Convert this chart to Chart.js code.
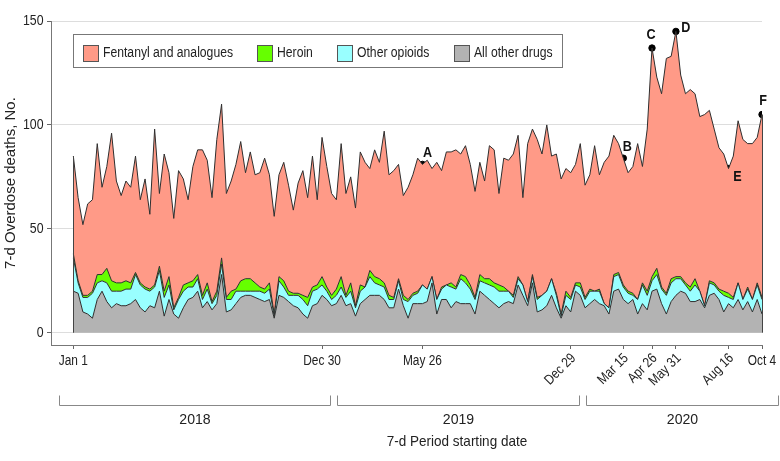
<!DOCTYPE html>
<html>
<head>
<meta charset="utf-8">
<script src="https://cdn.jsdelivr.net/npm/chart.js@4.4.0/dist/chart.umd.min.js"></script>
<style>
  body { margin: 0; background: #fff; }
</style>
</head>
<body>
<canvas id="chart" width="780" height="461"></canvas>
<script>
// weekly periods, index 0 = Jan 1 2018 ... 144 = Oct 4 2020
const otherDrugs = [20,19,10,9,7,16,20,15,12,14,13,13,14,16,12,10,13,12,20,8,16,9,7,12,16,17,20,12,15,11,
  14,28,10,11,14,17,18,18,17,16,15,16,7,18,17,15,13,12,9,7,13,14,18,16,13,14,18,13,14,8,
  14,16,18,18,18,16,12,12,21,13,7,14,14,14,15,24,9,16,16,12,15,14,14,14,9,20,18,16,14,12,
  14,15,14,23,18,13,24,10,11,13,18,12,7,13,10,20,18,12,14,16,14,13,9,20,21,16,14,16,9,14,
  11,20,21,14,9,15,18,20,19,15,15,16,12,18,19,16,10,14,12,16,11,15,10,16,9];
const otherOpioids = [16,5,7,8,12,8,5,9,8,6,7,8,7,12,11,11,7,10,10,9,7,2,9,8,6,5,6,4,6,3,
  4,5,6,5,6,3,2,2,3,4,4,5,1,7,5,3,5,6,7,6,7,7,5,4,3,4,4,4,6,4,
  6,6,9,6,5,6,4,4,4,3,8,4,5,9,6,3,7,5,7,10,6,12,10,7,7,5,6,7,8,8,
  6,5,3,3,5,2,3,6,7,7,8,6,1,5,6,3,4,4,6,4,6,1,3,7,7,6,5,2,7,9,
  7,5,7,7,9,9,8,6,4,5,8,4,1,6,4,4,8,3,4,8,5,6,6,7,7];
const heroin = [2,1,1,1,1,4,3,7,5,4,4,4,3,1,1,1,1,1,2,3,4,1,1,3,2,3,2,2,3,1,
  2,3,1,4,1,5,6,6,4,2,2,3,1,2,3,2,1,1,2,4,2,2,4,2,2,3,5,1,4,1,
  3,0,3,3,3,2,2,1,1,2,1,1,1,0,0,0,0,1,0,2,1,2,3,2,1,3,2,3,2,3,
  2,0,1,1,0,0,1,1,0,0,0,1,1,2,1,1,2,1,1,0,1,0,0,1,1,1,1,1,0,1,
  2,2,3,1,1,2,1,1,1,2,3,0,0,1,1,1,2,2,1,0,0,1,0,1,1];
const fentanyl = [47,40,34,44,44,63,42,49,71,49,42,48,46,56,40,52,36,75,35,66,50,43,61,51,40,55,60,70,59,50,
  73,74,50,53,60,67,51,61,52,55,63,52,47,49,57,51,40,53,60,48,63,41,67,58,49,43,64,49,51,47,
  64,60,49,61,56,73,58,61,55,48,54,57,64,58,62,52,66,56,64,63,66,58,63,58,51,54,47,64,64,44,
  62,63,68,68,42,76,70,76,68,80,59,67,65,59,60,57,67,54,55,70,55,68,73,67,62,61,57,61,75,56,
  78,110,92,93,113,107,118,97,91,95,89,84,92,82,74,68,66,60,68,78,77,69,75,70,88];

const tickWeeks = [0, 52, 73, 104, 115, 121, 126, 137, 144];
const tickLabels = ['Jan 1', 'Dec 30', 'May 26', 'Dec 29', 'Mar 15', 'Apr 26', 'May 31', 'Aug 16', 'Oct 4'];
const tickTilted = [false, false, false, true, true, true, true, true, false];
const yTicks = [0, 50, 100, 150];
const years = ['2018', '2019', '2020'];
const markLabels = ['A', 'B', 'C', 'D', 'E', 'F'];
const markWeeks = [73, 115, 121, 126, 137, 144];

const FONT = '"Liberation Sans", Arial, sans-serif';
const colors = { fentanyl: '#ff9a87', heroin: '#66ff00', opioids: '#99ffff', other: '#b3b3b3' };

const total = i => otherDrugs[i] + otherOpioids[i] + heroin[i] + fentanyl[i];

function area(label, values, color, fill) {
  return {
    label: label,
    data: values.map((v, i) => ({ x: i, y: v })),
    backgroundColor: color,
    borderColor: '#2e2e2e',
    borderWidth: 1,
    pointRadius: 0,
    tension: 0,
    fill: fill,
    stack: 'deaths'
  };
}

// text squeezed horizontally, the original face is narrower than Arial
function text(ctx, str, x, y, o) {
  ctx.save();
  ctx.font = (o.bold ? 'bold ' : '') + o.size + 'px ' + FONT;
  ctx.textAlign = o.align || 'center';
  ctx.textBaseline = o.baseline || 'middle';
  ctx.fillStyle = o.color || '#222';
  ctx.translate(x, y);
  if (o.rotate) ctx.rotate(o.rotate);
  ctx.scale(o.squeeze || 1, 1);
  ctx.fillText(str, 0, 0);
  ctx.restore();
}

function textWidth(ctx, str, o) {
  ctx.save();
  ctx.font = o.size + 'px ' + FONT;
  const w = ctx.measureText(str).width * (o.squeeze || 1);
  ctx.restore();
  return w;
}

const decorations = {
  id: 'decorations',
  afterDatasetsDraw(chart) {
    const { ctx, scales: { x, y } } = chart;
    ctx.save();
    // side edges of the stacked polygon
    ctx.strokeStyle = '#444';
    ctx.lineWidth = 1;
    [0, otherDrugs.length - 1].forEach(i => {
      const px = Math.round(x.getPixelForValue(i)) + 0.5;
      ctx.beginPath();
      ctx.moveTo(px, y.getPixelForValue(0));
      ctx.lineTo(px, y.getPixelForValue(total(i)));
      ctx.stroke();
    });
    ctx.restore();
    // letters next to marked points
    const offsets = { A: [5, -11], B: [4, -11], C: [-1, -13], D: [10, -3], E: [9, 9], F: [1, -13] };
    markWeeks.forEach((w, i) => {
      const o = offsets[markLabels[i]];
      text(ctx, markLabels[i], x.getPixelForValue(w) + o[0], y.getPixelForValue(total(w)) + o[1],
        { size: 14, bold: true, squeeze: 0.9, color: '#111' });
    });
  },
  afterDraw(chart) {
    const { ctx, chartArea, scales: { x, y } } = chart;

    // y tick labels
    yTicks.forEach(v => {
      text(ctx, String(v), 43.5, y.getPixelForValue(v), { size: 14, squeeze: 0.88, align: 'right' });
    });

    // x tick labels, some tilted
    tickWeeks.forEach((w, i) => {
      const px = x.getPixelForValue(w);
      if (tickTilted[i]) {
        text(ctx, tickLabels[i], px + 3, chartArea.bottom + 11,
          { size: 14, squeeze: 0.85, align: 'right', rotate: -Math.PI / 4 });
      } else {
        text(ctx, tickLabels[i], px, chartArea.bottom + 9,
          { size: 14, squeeze: 0.85, baseline: 'top' });
      }
    });

    // year brackets
    const spans = [[-3, 53.7], [55.2, 105.8], [107.1, 147.3]];
    ctx.save();
    ctx.strokeStyle = '#888';
    ctx.lineWidth = 1;
    spans.forEach((s, i) => {
      const a = Math.round(x.getPixelForValue(s[0])) + 0.5;
      const b = Math.round(x.getPixelForValue(s[1])) + 0.5;
      ctx.beginPath();
      ctx.moveTo(a, 395.5);
      ctx.lineTo(a, 405.5);
      ctx.lineTo(b, 405.5);
      ctx.lineTo(b, 395.5);
      ctx.stroke();
      text(ctx, years[i], (a + b) / 2, 420, { size: 15, squeeze: 0.94 });
    });
    ctx.restore();

    // axis titles
    text(ctx, '7-d Period starting date', 457, 442, { size: 15, squeeze: 0.9 });
    text(ctx, '7-d Overdose deaths, No.', 11, 183, { size: 15, rotate: -Math.PI / 2 });

    // legend box
    const items = [
      ['Fentanyl and analogues', colors.fentanyl],
      ['Heroin', colors.heroin],
      ['Other opioids', colors.opioids],
      ['All other drugs', colors.other]
    ];
    const lt = { size: 14, squeeze: 0.87, align: 'left' };
    let cx = 82.5;
    const pos = items.map(it => {
      const p = cx;
      cx += 20 + textWidth(ctx, it[0], lt) + 24.5;
      return p;
    });
    const boxRight = Math.round(cx - 24.5 + 9.5);
    ctx.save();
    ctx.fillStyle = '#fff';
    ctx.fillRect(73, 34, boxRight - 73, 34);
    ctx.strokeStyle = '#777';
    ctx.strokeRect(73.5, 34.5, boxRight - 73, 33);
    items.forEach((it, i) => {
      const sx = Math.round(pos[i]);
      ctx.fillStyle = it[1];
      ctx.fillRect(sx, 45, 15, 16);
      ctx.strokeStyle = '#555';
      ctx.strokeRect(sx + 0.5, 45.5, 15, 16);
      text(ctx, it[0], sx + 20, 53.5, lt);
    });
    ctx.restore();
  }
};

new Chart(document.getElementById('chart'), {
  type: 'line',
  data: {
    datasets: [
      area('All other drugs', otherDrugs, colors.other, 'origin'),
      area('Other opioids', otherOpioids, colors.opioids, '-1'),
      area('Heroin', heroin, colors.heroin, '-1'),
      area('Fentanyl and analogues', fentanyl, colors.fentanyl, '-1'),
      {
        label: 'marks',
        data: markWeeks.map(w => ({ x: w, y: total(w) })),
        showLine: false,
        pointRadius: 3.2,
        pointBackgroundColor: '#000',
        pointBorderColor: '#000',
        fill: false,
        stack: 'marks'
      }
    ]
  },
  options: {
    responsive: false,
    animation: false,
    layout: { padding: { top: 21, right: 18, left: 0, bottom: 0 } },
    plugins: { legend: { display: false }, tooltip: { enabled: false } },
    scales: {
      x: {
        type: 'linear',
        min: -4.67,
        max: 144,
        afterBuildTicks: scale => { scale.ticks = tickWeeks.map(v => ({ value: v })); },
        afterFit: scale => { scale.height = 116; },
        ticks: { display: false },
        grid: { drawOnChartArea: false, tickLength: 4, tickColor: '#666' },
        border: { color: '#777' }
      },
      y: {
        stacked: true,
        min: -5.9,
        max: 150,
        afterBuildTicks: scale => { scale.ticks = yTicks.map(v => ({ value: v })); },
        afterFit: scale => { scale.width = 51; },
        ticks: { display: false },
        grid: { color: '#dddddd', tickLength: 4, tickColor: '#666' },
        border: { color: '#777' }
      }
    }
  },
  plugins: [decorations]
});
</script>
</body>
</html>
